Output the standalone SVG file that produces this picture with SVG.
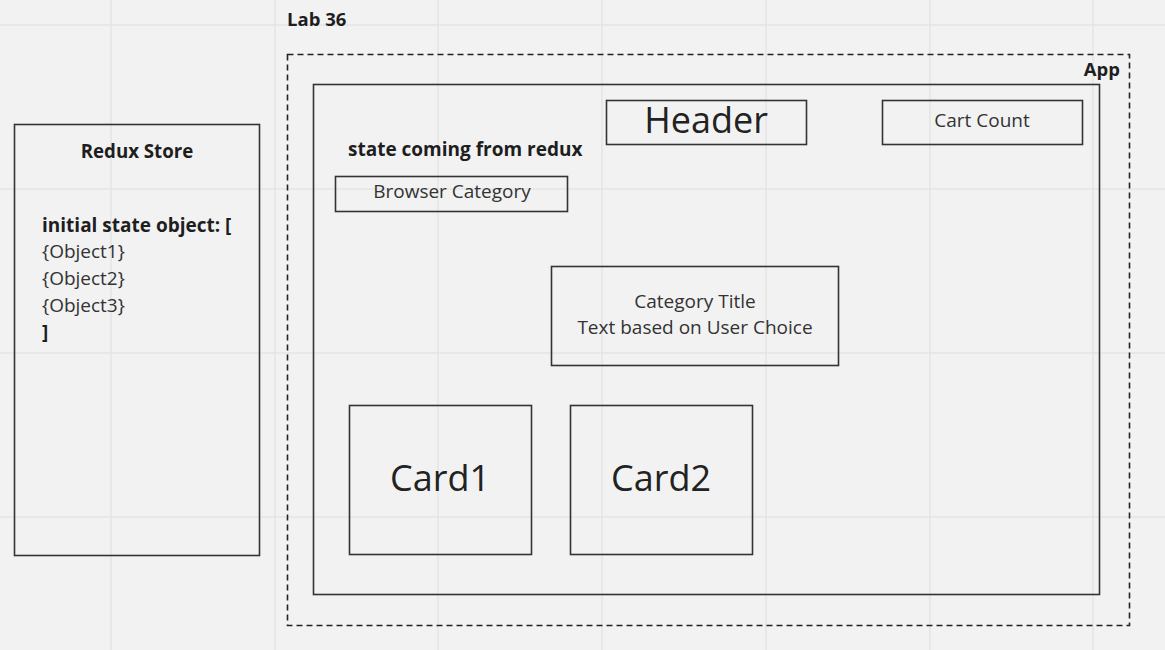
<svg xmlns="http://www.w3.org/2000/svg" width="1165" height="650" viewBox="0 0 1165 650">
<style>
.bg{fill:#f2f2f2}
.grid line{stroke:#e4e4e4;stroke-width:1.5}
.box{fill:none;stroke:#333;stroke-width:1.6}
.dash{fill:none;stroke:#222;stroke-width:1.6;stroke-dasharray:6 4}
text{font-family:"Open Sans","Noto Sans","Liberation Sans",sans-serif;fill:#333;font-weight:400}
.b{font-weight:bold;fill:#1e1e1e}
.s18{font-size:19px}
.big{font-size:36px;fill:#222}
.c{text-anchor:middle}
</style>
<rect class="bg" x="0" y="0" width="1165" height="650"/>
<g class="grid">
<line x1="111" y1="0" x2="111" y2="650"/>
<line x1="275" y1="0" x2="275" y2="650"/>
<line x1="438" y1="0" x2="438" y2="650"/>
<line x1="602" y1="0" x2="602" y2="650"/>
<line x1="766" y1="0" x2="766" y2="650"/>
<line x1="930" y1="0" x2="930" y2="650"/>
<line x1="1093" y1="0" x2="1093" y2="650"/>
<line x1="0" y1="25" x2="1165" y2="25"/>
<line x1="0" y1="189" x2="1165" y2="189"/>
<line x1="0" y1="353" x2="1165" y2="353"/>
<line x1="0" y1="517" x2="1165" y2="517"/>
</g>
<g id="redux-store">
<rect class="box" x="14.5" y="124.5" width="245" height="431"/>
<text class="b c" x="137" y="158" font-size="18.7">Redux Store</text>
<text class="b s18" x="42" y="232">initial state object: [</text>
<text class="s18" x="42" y="258">{Object1}</text>
<text class="s18" x="42" y="285">{Object2}</text>
<text class="s18" x="42" y="312">{Object3}</text>
<text class="b s18" x="42" y="339">]</text>
</g>
<g id="lab36">
<text class="b" x="287" y="26" font-size="18.5">Lab 36</text>
</g>
<g id="app-frame">
<rect class="dash" x="287.5" y="54.5" width="842" height="571"/>
<text class="b" x="1120" y="76" font-size="18.5" text-anchor="end">App</text>
</g>
<g id="app">
<rect class="box" x="313.5" y="84.5" width="786" height="510"/>
</g>
<g id="header">
<rect class="box" x="606.5" y="100.5" width="200" height="44"/>
<text class="big c" x="706" y="133">Header</text>
</g>
<g id="cart-count">
<rect class="box" x="882.5" y="100.5" width="200" height="44"/>
<text class="s18 c" x="982" y="127">Cart Count</text>
</g>
<g id="state-label">
<text class="b s18" x="348" y="156">state coming from redux</text>
</g>
<g id="browser-category">
<rect class="box" x="335.5" y="176.5" width="232" height="35"/>
<text class="s18 c" x="452" y="198">Browser Category</text>
</g>
<g id="category-title">
<rect class="box" x="551.5" y="266.5" width="287" height="99"/>
<text class="s18 c" x="695" y="308">Category Title</text>
<text class="s18 c" x="695" y="334">Text based on User Choice</text>
</g>
<g id="card1">
<rect class="box" x="349.5" y="405.5" width="182" height="149"/>
<text class="big c" x="440" y="491">Card1</text>
</g>
<g id="card2">
<rect class="box" x="570.5" y="405.5" width="182" height="149"/>
<text class="big c" x="661" y="491">Card2</text>
</g>
<g id="connectors"/>
</svg>
